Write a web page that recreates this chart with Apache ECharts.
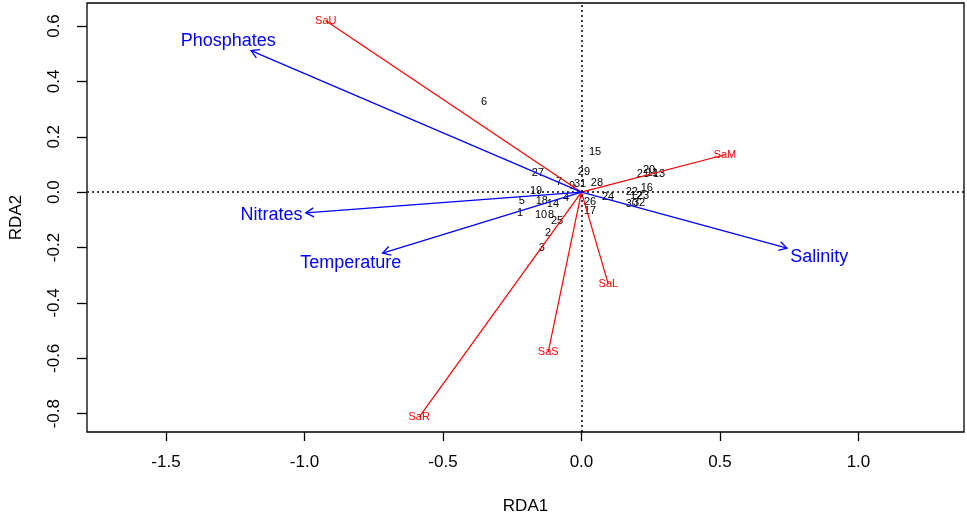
<!DOCTYPE html>
<html>
<head>
<meta charset="utf-8">
<script src="https://cdn.jsdelivr.net/npm/echarts@6/dist/echarts.min.js"></script>
<style>
  html, body { margin: 0; padding: 0; background: #fff; }
  #chart { width: 967px; height: 521px; }
</style>
</head>
<body>
<div id="chart"></div>
<script>
// environmental variables (blue arrows)
var envNames = ['Phosphates', 'Nitrates', 'Temperature', 'Salinity'];
var envX = [-1.193, -0.995, -0.718, 0.742];
var envY = [0.511, -0.075, -0.220, -0.202];

// species scores (red lines)
var sppNames = ['SaU', 'SaM', 'SaL', 'SaS', 'SaR'];
var sppX = [-0.923, 0.518, 0.097, -0.120, -0.586];
var sppY = [0.619, 0.135, -0.332, -0.578, -0.812];

// site scores
var siteNames = ['15', '27', '29', '7', '9', '31', '28', '20', '21', '11', '13', '16',
  '22', '12', '23', '30', '32', '24', '26', '17', '19', '5', '18', '14', '4', '1',
  '10', '8', '25', '2', '3', '6'];
var siteX = [0.049, -0.157, 0.009, -0.081, -0.034, -0.005, 0.056, 0.244, 0.222, 0.255, 0.280, 0.236,
  0.182, 0.197, 0.222, 0.182, 0.208, 0.096, 0.031, 0.031, -0.164, -0.215, -0.143, -0.103, -0.056, -0.222,
  -0.146, -0.110, -0.088, -0.121, -0.143, -0.352];
var siteY = [0.145, 0.070, 0.073, 0.037, 0.023, 0.030, 0.034, 0.081, 0.066, 0.070, 0.066, 0.016,
  0.001, -0.013, -0.013, -0.042, -0.039, -0.017, -0.035, -0.068, 0.005, -0.031, -0.031, -0.042, -0.021, -0.075,
  -0.082, -0.082, -0.103, -0.147, -0.201, 0.326];

var xTicks = [-1.5, -1.0, -0.5, 0.0, 0.5, 1.0];
var yTicks = [-0.8, -0.6, -0.4, -0.2, 0.0, 0.2, 0.4, 0.6];

var FONT = '"Liberation Sans", Arial, sans-serif';
var chart = echarts.init(document.getElementById('chart'), null, { renderer: 'canvas' });

// text width, used to push the arrow labels off the tips (like vegan does)
var ctx = document.createElement('canvas').getContext('2d');
function textWidth(s, size) {
  ctx.font = size + 'px ' + FONT;
  return ctx.measureText(s).width;
}

var sites = siteNames.map(function (n, i) { return [siteX[i], siteY[i], n]; });
var spp = sppNames.map(function (n, i) { return [sppX[i], sppY[i], n]; });
var env = envNames.map(function (n, i) { return [envX[i], envY[i], n]; });

var option = {
  animation: false,
  grid: {
    left: 87, right: 3, top: 3, bottom: 89,
    show: true, borderColor: '#000', borderWidth: 1.3, backgroundColor: '#fff'
  },
  xAxis: {
    type: 'value', min: -1.785, max: 1.381,
    name: 'RDA1', nameLocation: 'middle', nameGap: 66,
    nameTextStyle: { color: '#000', fontSize: 17, fontFamily: FONT },
    splitLine: { show: false },
    axisLine: { show: false, onZero: false },
    axisTick: { show: true, inside: false, length: 9, customValues: xTicks,
      lineStyle: { color: '#000', width: 1.3 } },
    axisLabel: { show: true, customValues: xTicks, margin: 22, color: '#000',
      fontSize: 17, fontFamily: FONT,
      formatter: function (v) { return v.toFixed(1); } }
  },
  yAxis: {
    type: 'value', min: -0.866, max: 0.683,
    name: 'RDA2', nameLocation: 'middle', nameGap: 62, nameRotate: 90,
    nameTextStyle: { color: '#000', fontSize: 17, fontFamily: FONT },
    splitLine: { show: false },
    axisLine: { show: false, onZero: false },
    axisTick: { show: true, inside: false, length: 10, customValues: yTicks,
      lineStyle: { color: '#000', width: 1.3 } },
    axisLabel: { show: true, customValues: yTicks, margin: 24, rotate: 90, color: '#000',
      fontSize: 17, fontFamily: FONT,
      formatter: function (v) { return v.toFixed(1); } }
  },
  series: [
    {
      // site numbers + the dotted zero lines
      type: 'custom',
      data: sites,
      z: 3,
      renderItem: function (params, api) {
        var p = api.coord([api.value(0), api.value(1)]);
        return {
          type: 'text', x: p[0], y: p[1],
          style: { text: sites[params.dataIndex][2], fill: '#000', fontSize: 11,
            fontFamily: FONT, align: 'center', verticalAlign: 'middle' }
        };
      },
      markLine: {
        silent: true, symbol: 'none', animation: false,
        label: { show: false },
        lineStyle: { color: '#000', type: [2, 3], width: 1.5 },
        data: [{ xAxis: 0 }, { yAxis: 0 }]
      }
    },
    {
      // species: red line from origin, label at the end
      type: 'custom',
      data: spp,
      z: 4,
      renderItem: function (params, api) {
        var o = api.coord([0, 0]);
        var t = api.coord([api.value(0), api.value(1)]);
        return {
          type: 'group',
          children: [
            { type: 'line', shape: { x1: o[0], y1: o[1], x2: t[0], y2: t[1] },
              style: { stroke: '#ff0000', lineWidth: 1.2 } },
            { type: 'text', x: t[0], y: t[1],
              style: { text: spp[params.dataIndex][2], fill: '#ff0000', fontSize: 11,
                fontFamily: FONT, align: 'center', verticalAlign: 'middle' } }
          ]
        };
      }
    },
    {
      // environmental arrows
      type: 'custom',
      data: env,
      z: 5,
      renderItem: function (params, api) {
        var o = api.coord([0, 0]);
        var t = api.coord([api.value(0), api.value(1)]);
        var dx = t[0] - o[0], dy = o[1] - t[1];
        var ang = Math.atan2(t[1] - o[1], t[0] - o[0]);
        var hl = 9, ha = Math.PI / 6;
        var p1 = [t[0] - hl * Math.cos(ang - ha), t[1] - hl * Math.sin(ang - ha)];
        var p2 = [t[0] - hl * Math.cos(ang + ha), t[1] - hl * Math.sin(ang + ha)];
        var name = env[params.dataIndex][2];
        var w = textWidth(name, 18), h = 13;
        var offX = Math.sign(dx) * (w / 2 + h / 4);
        var offY = 0.75 * h * Math.sign(dy);
        var b = dy / dx;
        var move = offY / b;
        if (isFinite(move) && Math.abs(move) <= Math.abs(offX)) offX = move;
        else offY = b * offX;
        return {
          type: 'group',
          children: [
            { type: 'line', shape: { x1: o[0], y1: o[1], x2: t[0], y2: t[1] },
              style: { stroke: '#0000ff', lineWidth: 1.3 } },
            { type: 'polyline', shape: { points: [p1, t, p2] },
              style: { stroke: '#0000ff', lineWidth: 1.3, fill: null } },
            { type: 'text', x: t[0] + offX, y: t[1] - offY,
              style: { text: name, fill: '#0000ff', fontSize: 18, fontFamily: FONT,
                align: 'center', verticalAlign: 'middle' } }
          ]
        };
      }
    }
  ]
};

chart.setOption(option);
</script>
</body>
</html>
